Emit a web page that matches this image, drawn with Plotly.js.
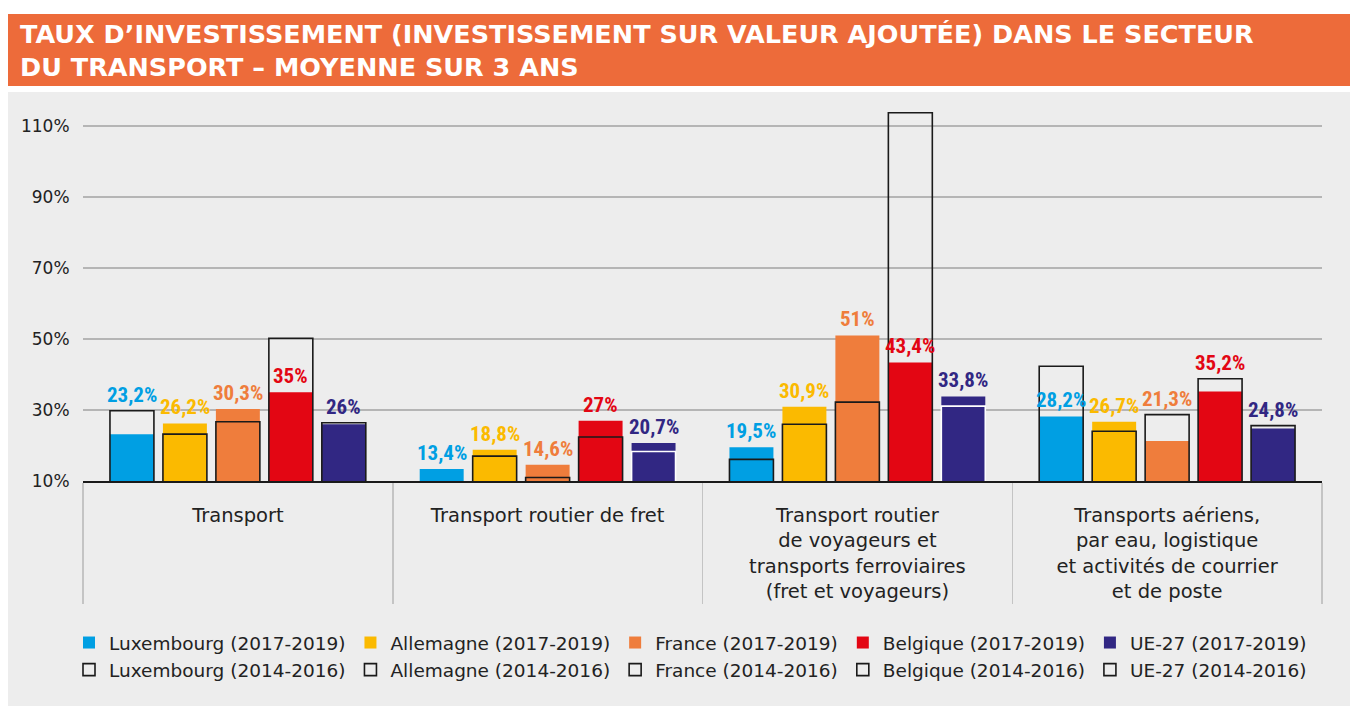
<!DOCTYPE html>
<html>
<head>
<meta charset="utf-8">
<script src="https://cdn.plot.ly/plotly-3.0.1.min.js"></script>
<style>
  html, body { margin: 0; padding: 0; background: #ffffff; }
  #chart { width: 1357px; height: 706px; }
</style>
</head>
<body>
<div id="chart"></div>
<script>
// ---- Data ----
const categories = [
  'Transport',
  'Transport routier de fret',
  'Transport routier<br>de voyageurs et<br>transports ferroviaires<br>(fret et voyageurs)',
  'Transports aériens,<br>par eau, logistique<br>et activités de courrier<br>et de poste'
];
const countries = ['Luxembourg', 'Allemagne', 'France', 'Belgique', 'UE-27'];
const periodNew = '(2017-2019)';
const periodOld = '(2014-2016)';

const luxNew = [23.2, 13.4, 19.5, 28.2];
const luxOld = [29.8, 9.5, 16.1, 42.3];
const deuNew = [26.2, 18.8, 30.9, 26.7];
const deuOld = [23.2, 17.0, 26.0, 24.0];
const fraNew = [30.3, 14.6, 51, 21.3];
const fraOld = [26.7, 11.0, 32.2, 28.7];
const belNew = [35, 27, 43.4, 35.2];
const belOld = [50.2, 22.4, 113.7, 38.8];
const ueNew = [26, 20.7, 33.8, 24.8];
const ueOld = [26.4, 18.3, 31.1, 25.6];

const yTickVals = [10, 30, 50, 70, 90, 110];

// ---- Styles ----
const colors = ['#009FE3', '#FBBA00', '#EF7D3C', '#E30613', '#312783'];
const oldLineColors = [
  '#1a1a1a', '#1a1a1a', '#1a1a1a', '#1a1a1a',
  ['#1a1a1a', '#ffffff', '#ffffff', '#1a1a1a']
];
const bodyFont = 'DejaVu Sans, sans-serif';
const labelFont = 'Liberation Sans Narrow, Roboto Condensed, Liberation Sans, sans-serif';
const BARGAP = 0.145, BARGROUPGAP = 0.17;

const newSeries = [luxNew, deuNew, fraNew, belNew, ueNew];
const oldSeries = [luxOld, deuOld, fraOld, belOld, ueOld];

function fmt(v) { return String(v).replace('.', ',') + '%'; }

const traces = [];
const annotations = [];
const slot = (1 - BARGAP) / countries.length;
countries.forEach(function (c, i) {
  traces.push({
    type: 'bar',
    name: c + ' ' + periodNew,
    x: categories,
    y: newSeries[i],
    offsetgroup: c,
    legendgroup: c,
    marker: { color: colors[i], line: { width: 0 } },
    hoverinfo: 'skip'
  });
  traces.push({
    type: 'bar',
    name: c + ' ' + periodOld,
    x: categories,
    y: oldSeries[i],
    offsetgroup: c,
    legendgroup: c,
    marker: { color: 'rgba(0,0,0,0)', line: { width: 1.6, color: oldLineColors[i] } },
    hoverinfo: 'skip'
  });
  // value labels: above the taller bar unless the old outline is much taller
  newSeries[i].forEach(function (v, k) {
    const o = oldSeries[i][k];
    const anchor = (o - v < 10) ? Math.max(v, o) : v;
    annotations.push({
      xref: 'x', yref: 'y',
      x: k + (i - (countries.length - 1) / 2) * slot,
      y: anchor,
      text: fmt(v),
      showarrow: false,
      yanchor: 'bottom',
      xanchor: 'center',
      yshift: 2,
      font: { family: labelFont, size: 21, color: colors[i], weight: 'bold' }
    });
  });
});

// pixel helpers for paper coordinates of decorative panels
const L = 83, R = 35, T = 100, B = 225, W = 1357, H = 706;
const pw = W - L - R, ph = H - T - B;
function px(x) { return (x - L) / pw; }
function py(y) { return (H - B - y) / ph; }

const layout = {
  width: W,
  height: H,
  margin: { l: L, r: R, t: T, b: B, pad: 0 },
  paper_bgcolor: '#ffffff',
  plot_bgcolor: 'rgba(0,0,0,0)',
  font: { family: bodyFont, color: '#222222' },
  barmode: 'group',
  bargap: BARGAP,
  bargroupgap: BARGROUPGAP,
  title: {
    text: 'TAUX D’INVESTISSEMENT (INVESTISSEMENT SUR VALEUR AJOUTÉE) DANS LE SECTEUR<br>DU TRANSPORT – MOYENNE SUR 3 ANS',
    xref: 'container', yref: 'container',
    x: 20 / W, xanchor: 'left',
    y: 1 - 43 / H, yanchor: 'top',
    font: { family: 'DejaVu Sans, sans-serif', size: 25.5, color: '#ffffff', weight: 'bold' }
  },
  xaxis: {
    type: 'category',
    tickson: 'boundaries',
    ticks: 'outside',
    ticklen: 121,
    tickwidth: 1.5,
    tickcolor: '#c4c4c4',
    showline: true,
    linecolor: '#1a1a1a',
    linewidth: 1.5,
    showgrid: false,
    ticklabelstandoff: 16,
    tickfont: { family: bodyFont, size: 19.5, color: '#222222' },
    fixedrange: true
  },
  yaxis: {
    range: [10, 117.3],
    tickmode: 'array',
    tickvals: yTickVals,
    ticktext: yTickVals.map(function (v) { return v + '%'; }),
    showgrid: true,
    gridcolor: '#b5b5b5',
    gridwidth: 1.3,
    zeroline: false,
    showline: false,
    ticks: 'outside',
    ticklen: 9,
    tickcolor: 'rgba(0,0,0,0)',
    tickfont: { family: bodyFont, size: 17, color: '#222222' },
    fixedrange: true
  },
  legend: {
    orientation: 'h',
    traceorder: 'grouped',
    x: px(69), xanchor: 'left',
    y: py(624), yanchor: 'top',
    bgcolor: 'rgba(0,0,0,0)',
    font: { family: bodyFont, size: 18.5, color: '#222222' },
    itemclick: false, itemdoubleclick: false
  },
  annotations: annotations,
  shapes: [
    { type: 'rect', xref: 'paper', yref: 'paper', layer: 'below',
      x0: px(8), x1: px(1350), y0: py(706), y1: py(92),
      fillcolor: '#ededed', line: { width: 0 } },
    { type: 'rect', xref: 'paper', yref: 'paper', layer: 'below',
      x0: px(8), x1: px(1350), y0: py(86), y1: py(14),
      fillcolor: '#ED6B3A', line: { width: 0 } }
  ],
  showlegend: true
};

Plotly.newPlot('chart', traces, layout, { staticPlot: true, displayModeBar: false });
</script>
</body>
</html>
